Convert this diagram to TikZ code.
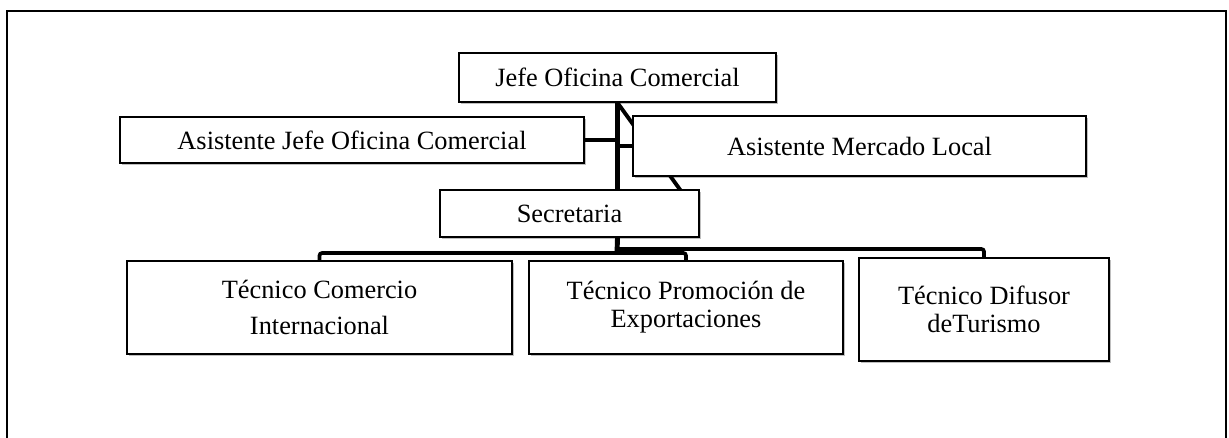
\documentclass[tikz,border=0pt]{standalone}
\usepackage{fontspec}
\setmainfont{Liberation Serif}
\usetikzlibrary{shadows,backgrounds}
\begin{document}
\begin{tikzpicture}[x=0.02cm,y=-0.02cm,
    box/.style={draw,fill=white,line width=0.9pt,align=center,inner sep=2pt,
        font=\fontsize{15}{16}\selectfont,
        drop shadow={shadow xshift=1.2pt,shadow yshift=-1.2pt,fill=black,opacity=0.25}},
    link/.style={line width=2.8pt},
    bus/.style={line width=2.1pt,rounded corners=1.5pt}]

    \useasboundingbox (0,0) rectangle (1229,438);
    \draw[line width=1.3pt] (7,445) -- (7,11) -- (1226,11) -- (1226,445);

    % the boxes

    \node[box,minimum width=6.34cm,minimum height=0.98cm] (jefe) at (617.5,77.5) {Jefe Oficina Comercial};
    \node[box,minimum width=9.28cm,minimum height=0.92cm] (asisjefe) at (352,140) {Asistente Jefe Oficina Comercial};
    \node[box,minimum width=9.06cm,minimum height=1.2cm] (mercado) at (859.5,146) {Asistente Mercado Local};
    \node[box,minimum width=5.18cm,minimum height=0.94cm] (secre) at (569.5,213.5) {Secretaria};
    \node[box,minimum width=7.7cm,minimum height=1.86cm,font=\fontsize{15}{21}\selectfont] (tcomercio) at (319.5,307.5) {Técnico Comercio\\Internacional};
    \node[box,minimum width=6.28cm,minimum height=1.86cm] (tpromo) at (686,307.5) {Técnico Promoción de\\Exportaciones};
    \node[box,minimum width=5cm,minimum height=2.06cm] (tdifusor) at (984,309.5) {Técnico Difusor\\deTurismo};

    % the lines, behind the boxes

    \coordinate (diag) at (681,191);
    \coordinate (busA) at (617,253);
    \coordinate (busB) at (617,249);
    \begin{scope}[on background layer]
    \draw[link] (jefe.south) -- (jefe.south |- secre.north);
    \draw[link] (asisjefe.east) -- (asisjefe.east -| jefe.south);
    \draw[link] (mercado.west) -- (mercado.west -| jefe.south);
    \draw[link,line width=2.2pt] (jefe.south) -- (diag);
    \draw[link] (jefe.south |- secre.south) -- (busA);
    \draw[bus] (busA) -| (tcomercio.north);
    \draw[bus] (busA) -| (tpromo.north);
    \draw[bus] (busA) -- (busB) -| (tdifusor.north);
    \end{scope}
  \end{tikzpicture}
\end{document}
